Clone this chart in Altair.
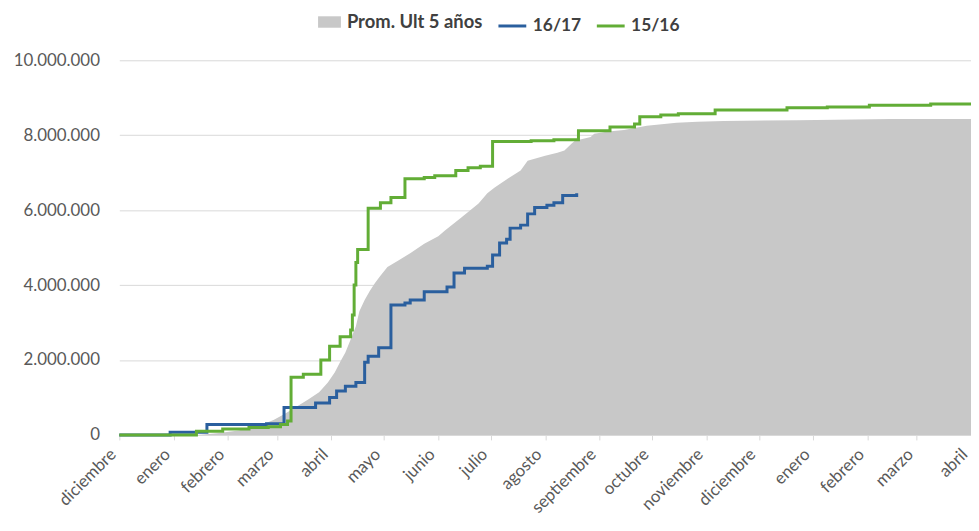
import altair as alt
import pandas as pd

season_start = "2016-12-01"
season_end = "2018-04-01"
month_names = ["enero", "febrero", "marzo", "abril", "mayo", "junio", "julio",
               "agosto", "septiembre", "octubre", "noviembre", "diciembre"]
tick_months = ["2016-12-01", "2017-01-01", "2017-02-01", "2017-03-01", "2017-04-01",
               "2017-05-01", "2017-06-01", "2017-07-01", "2017-08-01", "2017-09-01",
               "2017-10-01", "2017-11-01", "2017-12-01", "2018-01-01", "2018-02-01",
               "2018-03-01", "2018-04-01"]
y_ticks = [0, 1000000, 2000000, 3000000, 4000000, 5000000, 6000000, 7000000,
           8000000, 9000000, 10000000]

series_names = ["Prom. Ult 5 años", "16/17", "15/16"]

# days since season start
prom_days = [0, 45, 57, 68, 80, 88, 94, 99, 108, 114, 119, 123, 126, 129, 132, 135,
             137, 140, 143, 146, 149, 153, 159, 166, 174, 182, 186, 195, 205, 210,
             214, 222, 229, 233, 243, 250, 254, 258, 260, 269, 271, 279, 288, 301,
             318, 330, 345, 387, 440, 486]
prom_vals = [0, 0, 50000, 120000, 250000, 400000, 550000, 690000, 950000, 1140000,
             1400000, 1670000, 1950000, 2200000, 2550000, 2900000, 3300000, 3600000,
             3850000, 4060000, 4250000, 4480000, 4650000, 4850000, 5100000, 5300000,
             5460000, 5800000, 6180000, 6450000, 6600000, 6850000, 7060000, 7320000,
             7450000, 7530000, 7590000, 7770000, 7850000, 7950000, 8040000, 8100000,
             8140000, 8250000, 8330000, 8360000, 8380000, 8400000, 8430000, 8430000]

s1617_days = [0, 29, 50, 84, 94, 112, 120, 124, 129, 135, 140, 142, 148, 155, 163,
              166, 174, 187, 191, 197, 210, 213, 217, 221, 223, 229, 233, 237, 244,
              248, 253, 261]
s1617_vals = [0, 70000, 280000, 300000, 730000, 850000, 1000000, 1170000, 1300000,
              1400000, 1940000, 2100000, 2330000, 3470000, 3520000, 3600000, 3820000,
              3950000, 4320000, 4450000, 4500000, 4800000, 5120000, 5220000, 5520000,
              5600000, 5900000, 6070000, 6130000, 6200000, 6390000, 6450000]

s1516_days = [0, 44, 59, 74, 85, 92, 96, 98, 105, 115, 120, 126, 132, 133, 134, 135,
              136, 142, 149, 155, 163, 174, 180, 192, 199, 206, 213, 235, 248, 262,
              280, 294, 297, 309, 319, 340, 381, 404, 428, 463, 486]
s1516_vals = [0, 100000, 160000, 200000, 220000, 280000, 370000, 1540000, 1620000,
              2000000, 2370000, 2620000, 2800000, 3200000, 4000000, 4600000, 4950000,
              6050000, 6200000, 6340000, 6840000, 6870000, 6920000, 7060000, 7130000,
              7170000, 7830000, 7850000, 7880000, 8120000, 8220000, 8300000, 8490000,
              8540000, 8570000, 8670000, 8730000, 8750000, 8800000, 8830000, 8830000]

blue = "#2a5f9e"
green = "#62ad36"
gray = "#c8c8c8"
FONT = "Lato"


def frame(days, vals, name):
    base = pd.Timestamp(season_start)
    return pd.DataFrame({
        "fecha": [base + pd.Timedelta(days=d) for d in days],
        "valor": vals,
        "serie": name,
    })


prom_df = frame(prom_days, prom_vals, series_names[0])
s1617_df = frame(s1617_days, s1617_vals, series_names[1])
s1516_df = frame(s1516_days, s1516_vals, series_names[2])

month_expr = "[" + ",".join("'%s'" % m for m in month_names) + "][month(datum.value)]"

x_enc = alt.X(
    "fecha:T",
    scale=alt.Scale(domain=[alt.DateTime(year=2016, month=12, date=1),
                            alt.DateTime(year=2018, month=4, date=1)]),
    axis=alt.Axis(
        title=None,
        values=[alt.DateTime(year=int(t[:4]), month=int(t[5:7]), date=1) for t in tick_months],
        labelExpr=month_expr,
        labelAngle=-45,
        labelAlign="right",
        labelBaseline="bottom",
        labelFont=FONT,
        labelFontSize=17,
        labelColor="#595959",
        labelPadding=18,
        domainColor="#d9d9d9",
        tickColor="#d9d9d9",
        tickSize=5,
        grid=False,
        labelOverlap=False,
        labelFlush=False,
    ),
)

y_enc = alt.Y(
    "valor:Q",
    scale=alt.Scale(domain=[0, 10000000], nice=False),
    axis=alt.Axis(
        title=None,
        values=y_ticks,
        labelExpr="replace(format(datum.value, ','), regexp(',', 'g'), '.')",
        labelFont=FONT,
        labelFontSize=17,
        labelColor="#595959",
        labelPadding=20,
        labelOverlap=False,
        domain=False,
        ticks=False,
        gridColor="#d9d9d9",
        gridWidth=1,
    ),
)

area = alt.Chart(prom_df).mark_area(interpolate="linear", opacity=1).encode(
    x=x_enc,
    y=y_enc,
    fill=alt.Fill(
        "serie:N",
        scale=alt.Scale(domain=[series_names[0]], range=[gray]),
        legend=alt.Legend(
            title=None, orient="none", legendX=200, legendY=-50,
            symbolType="M-1,-0.5H1V0.5H-1Z", symbolSize=529,
            symbolStrokeWidth=0, labelFont=FONT, labelFontSize=18.5,
            labelFontWeight="bold", labelColor="#404040", labelOffset=6,
        ),
    ),
)

stroke_scale = alt.Scale(domain=series_names[1:], range=[blue, green])
stroke_legend = alt.Legend(
    title=None, orient="none", direction="horizontal", legendX=380, legendY=-50,
    symbolType="stroke", symbolSize=784, symbolStrokeWidth=3,
    labelFont=FONT, labelFontSize=17.5, labelFontWeight="bold",
    labelColor="#404040", columnPadding=9, labelOffset=5,
)

line_blue = alt.Chart(s1617_df).mark_line(interpolate="step-after", strokeWidth=3).encode(
    x="fecha:T", y="valor:Q",
    stroke=alt.Stroke("serie:N", scale=stroke_scale, legend=stroke_legend),
)
line_green = alt.Chart(s1516_df).mark_line(interpolate="step-after", strokeWidth=3).encode(
    x="fecha:T", y="valor:Q",
    stroke=alt.Stroke("serie:N", scale=stroke_scale, legend=stroke_legend),
)

chart = alt.layer(area, line_blue, line_green).properties(
    width=857,
    height=377,
    autosize=alt.AutoSizeParams(type="none"),
    padding={"left": 112, "top": 51, "right": 0, "bottom": 84},
    background="white",
).configure_view(stroke=None)

chart.save("out.html", embed_options={"renderer": "svg", "actions": False})
